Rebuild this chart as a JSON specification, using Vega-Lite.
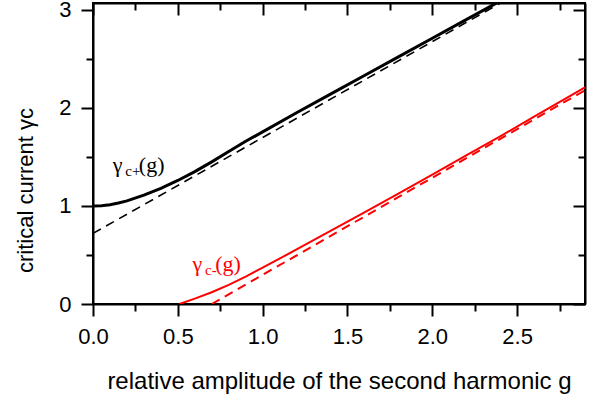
{
  "$schema": "https://vega.github.io/schema/vega-lite/v6.json",
  "width": 492,
  "height": 301,
  "autosize": {"type": "none"},
  "padding": {"left": 93, "top": 3, "right": 28, "bottom": 98},
  "background": "white",
  "config": {
    "view": {"stroke": "black", "strokeWidth": 2},
    "axis": {
      "labelFont": "Liberation Sans",
      "titleFont": "Liberation Sans",
      "labelFontSize": 22,
      "titleFontSize": 22,
      "titleFontWeight": "normal",
      "labelColor": "black",
      "titleColor": "black",
      "domainColor": "black",
      "domainWidth": 2,
      "tickColor": "black",
      "tickWidth": 2,
      "grid": false,
      "labelFlush": false,
      "labelOverlap": false
    }
  },
  "datasets": {
    "curves": [
      {"curve": "plus", "kind": "exact", "g": 0.0, "v": 1.0},
      {"curve": "plus", "kind": "exact", "g": 0.05, "v": 1.002},
      {"curve": "plus", "kind": "exact", "g": 0.1, "v": 1.012},
      {"curve": "plus", "kind": "exact", "g": 0.15, "v": 1.03},
      {"curve": "plus", "kind": "exact", "g": 0.2, "v": 1.052},
      {"curve": "plus", "kind": "exact", "g": 0.3, "v": 1.11},
      {"curve": "plus", "kind": "exact", "g": 0.4, "v": 1.18},
      {"curve": "plus", "kind": "exact", "g": 0.5, "v": 1.26},
      {"curve": "plus", "kind": "exact", "g": 0.6, "v": 1.35},
      {"curve": "plus", "kind": "exact", "g": 0.7, "v": 1.45},
      {"curve": "plus", "kind": "exact", "g": 0.8, "v": 1.555},
      {"curve": "plus", "kind": "exact", "g": 0.9, "v": 1.66},
      {"curve": "plus", "kind": "exact", "g": 1.0, "v": 1.755},
      {"curve": "plus", "kind": "exact", "g": 1.2, "v": 1.95},
      {"curve": "plus", "kind": "exact", "g": 1.4, "v": 2.14},
      {"curve": "plus", "kind": "exact", "g": 1.6, "v": 2.33},
      {"curve": "plus", "kind": "exact", "g": 1.8, "v": 2.52},
      {"curve": "plus", "kind": "exact", "g": 2.0, "v": 2.71},
      {"curve": "plus", "kind": "exact", "g": 2.2, "v": 2.9},
      {"curve": "plus", "kind": "exact", "g": 2.4, "v": 3.09},
      {"curve": "plus", "kind": "asymptote", "g": 0.0, "v": 0.72},
      {"curve": "plus", "kind": "asymptote", "g": 2.5, "v": 3.165},
      {"curve": "minus", "kind": "exact", "g": 0.51, "v": 0.0},
      {"curve": "minus", "kind": "exact", "g": 0.6, "v": 0.055},
      {"curve": "minus", "kind": "exact", "g": 0.7, "v": 0.12},
      {"curve": "minus", "kind": "exact", "g": 0.8, "v": 0.195},
      {"curve": "minus", "kind": "exact", "g": 0.9, "v": 0.28},
      {"curve": "minus", "kind": "exact", "g": 1.0, "v": 0.37},
      {"curve": "minus", "kind": "exact", "g": 1.2, "v": 0.556},
      {"curve": "minus", "kind": "exact", "g": 1.4, "v": 0.745},
      {"curve": "minus", "kind": "exact", "g": 1.6, "v": 0.935},
      {"curve": "minus", "kind": "exact", "g": 1.8, "v": 1.125},
      {"curve": "minus", "kind": "exact", "g": 2.0, "v": 1.32},
      {"curve": "minus", "kind": "exact", "g": 2.2, "v": 1.515},
      {"curve": "minus", "kind": "exact", "g": 2.4, "v": 1.71},
      {"curve": "minus", "kind": "exact", "g": 2.6, "v": 1.91},
      {"curve": "minus", "kind": "exact", "g": 2.8, "v": 2.11},
      {"curve": "minus", "kind": "exact", "g": 2.9, "v": 2.21},
      {"curve": "minus", "kind": "asymptote", "g": 0.7, "v": 0.0},
      {"curve": "minus", "kind": "asymptote", "g": 2.9, "v": 2.18}
    ],
    "labels": [
      {"curve": "plus", "part": "main", "text": "γ", "g": 0.116, "v": 1.35},
      {"curve": "plus", "part": "sub", "text": "c+", "g": 0.19, "v": 1.31},
      {"curve": "plus", "part": "main", "text": "(g)", "g": 0.27, "v": 1.35},
      {"curve": "minus", "part": "main", "text": "γ", "g": 0.586, "v": 0.34},
      {"curve": "minus", "part": "sub", "text": "c-", "g": 0.66, "v": 0.30},
      {"curve": "minus", "part": "main", "text": "(g)", "g": 0.72, "v": 0.34}
    ]
  },
  "resolve": {"axis": {"x": "independent", "y": "independent"}},
  "layer": [
    {
      "data": {"name": "curves"},
      "transform": [{"filter": "datum.curve === 'plus' && datum.kind === 'exact'"}],
      "mark": {"type": "line", "color": "black", "strokeWidth": 3, "clip": true},
      "encoding": {
        "x": {
          "field": "g", "type": "quantitative",
          "scale": {"domain": [0, 2.9], "nice": false, "zero": false},
          "axis": {
            "orient": "bottom",
            "title": "relative amplitude of the second harmonic g",
            "titleFontSize": 24,
            "values": [0, 0.25, 0.5, 0.75, 1, 1.25, 1.5, 1.75, 2, 2.25, 2.5, 2.75],
            "labelExpr": "(datum.value * 2) % 1 === 0 ? format(datum.value, '.1f') : ''",
            "tickSize": {"condition": {"test": "(datum.value * 2) % 1 === 0", "value": 12}, "value": 7},
            "labelPadding": 10,
            "titlePadding": 22
          }
        },
        "y": {
          "field": "v", "type": "quantitative",
          "scale": {"domain": [0, 3.07], "nice": false, "zero": false},
          "axis": {
            "orient": "left",
            "title": "critical current γc",
            "titleFontSize": 22,
            "titleY": 187,
            "titleAnchor": "middle",
            "values": [0, 0.5, 1, 1.5, 2, 2.5, 3],
            "labelExpr": "datum.value % 1 === 0 ? format(datum.value, 'd') : ''",
            "tickSize": {"condition": {"test": "datum.value % 1 === 0", "value": 12}, "value": 7},
            "labelPadding": 10,
            "titlePadding": 21
          }
        }
      }
    },
    {
      "data": {"name": "curves"},
      "transform": [{"filter": "datum.curve === 'plus' && datum.kind === 'asymptote'"}],
      "mark": {"type": "line", "color": "black", "strokeWidth": 1.6, "strokeDash": [9, 6], "clip": true},
      "encoding": {
        "x": {
          "field": "g", "type": "quantitative",
          "axis": {
            "orient": "top",
            "title": null,
            "values": [0, 0.25, 0.5, 0.75, 1, 1.25, 1.5, 1.75, 2, 2.25, 2.5, 2.75],
            "labels": false,
            "tickSize": {"condition": {"test": "(datum.value * 2) % 1 === 0", "value": -12}, "value": -7}
          }
        },
        "y": {
          "field": "v", "type": "quantitative",
          "axis": {
            "orient": "right",
            "title": null,
            "values": [0, 0.5, 1, 1.5, 2, 2.5, 3],
            "labels": false,
            "tickSize": {"condition": {"test": "datum.value % 1 === 0", "value": -12}, "value": -7}
          }
        }
      }
    },
    {
      "data": {"name": "curves"},
      "transform": [{"filter": "datum.curve === 'minus' && datum.kind === 'exact'"}],
      "mark": {"type": "line", "color": "red", "strokeWidth": 2, "clip": true},
      "encoding": {
        "x": {"field": "g", "type": "quantitative", "axis": null},
        "y": {"field": "v", "type": "quantitative", "axis": null}
      }
    },
    {
      "data": {"name": "curves"},
      "transform": [{"filter": "datum.curve === 'minus' && datum.kind === 'asymptote'"}],
      "mark": {"type": "line", "color": "red", "strokeWidth": 2, "strokeDash": [9, 6], "clip": true},
      "encoding": {
        "x": {"field": "g", "type": "quantitative", "axis": null},
        "y": {"field": "v", "type": "quantitative", "axis": null}
      }
    },
    {
      "data": {"name": "labels"},
      "transform": [{"filter": "datum.part === 'main'"}],
      "mark": {"type": "text", "font": "Liberation Serif", "fontSize": 22, "align": "left", "baseline": "alphabetic"},
      "encoding": {
        "x": {"field": "g", "type": "quantitative", "axis": null},
        "y": {"field": "v", "type": "quantitative", "axis": null},
        "text": {"field": "text"},
        "color": {"field": "curve", "type": "nominal", "scale": {"domain": ["plus", "minus"], "range": ["black", "red"]}, "legend": null}
      }
    },
    {
      "data": {"name": "labels"},
      "transform": [{"filter": "datum.part === 'sub'"}],
      "mark": {"type": "text", "font": "Liberation Serif", "fontSize": 15, "align": "left", "baseline": "alphabetic"},
      "encoding": {
        "x": {"field": "g", "type": "quantitative", "axis": null},
        "y": {"field": "v", "type": "quantitative", "axis": null},
        "text": {"field": "text"},
        "color": {"field": "curve", "type": "nominal", "scale": {"domain": ["plus", "minus"], "range": ["black", "red"]}, "legend": null}
      }
    }
  ]
}
